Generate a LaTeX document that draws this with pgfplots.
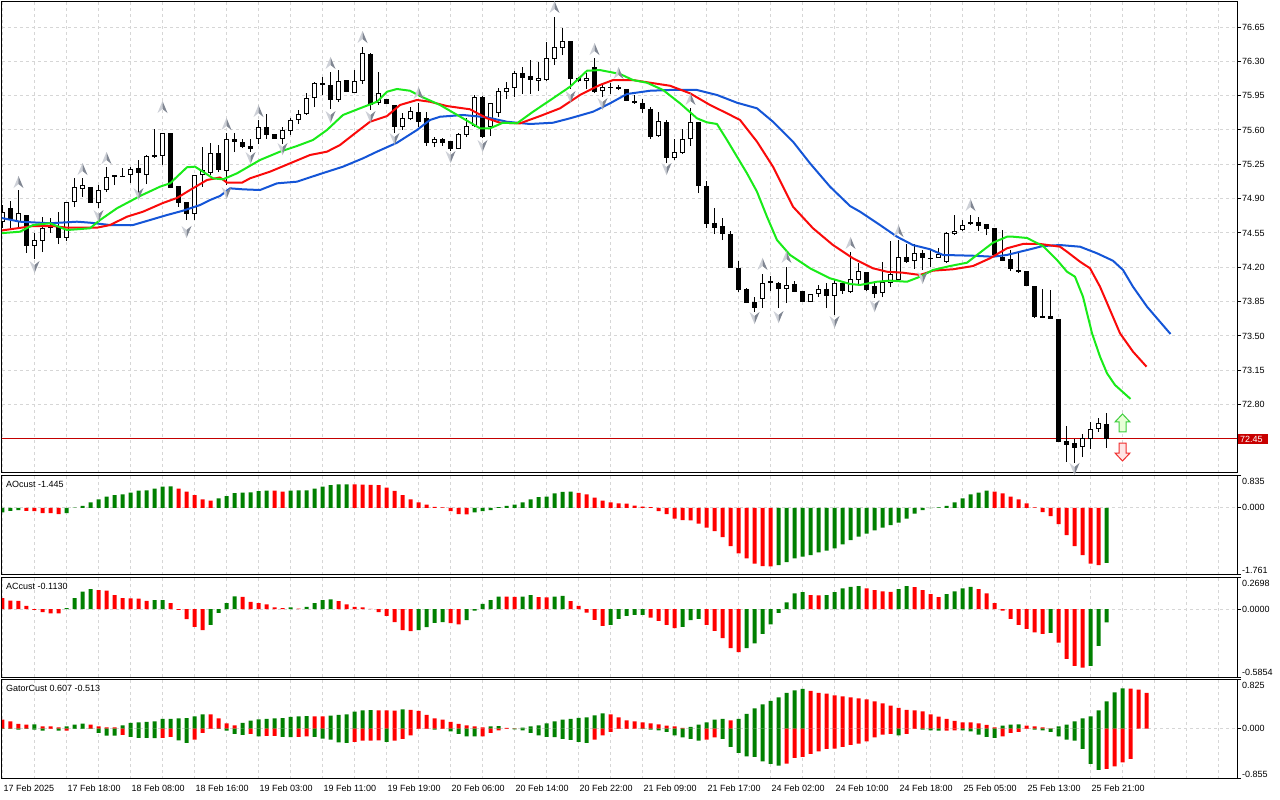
\documentclass[border=0pt]{standalone}
\usepackage{fontspec}
\setmainfont{Liberation Sans}
\usepackage{pgfplots}
\usepackage{pgfplotstable}
\pgfplotsset{compat=1.18}

\definecolor{gridc}{RGB}{214,214,214}
\definecolor{jaw}{RGB}{20,85,215}
\definecolor{teeth}{RGB}{250,10,10}
\definecolor{lips}{RGB}{25,235,25}
\definecolor{hgreen}{RGB}{0,128,0}
\definecolor{hred}{RGB}{255,0,0}
\definecolor{fracL}{RGB}{205,208,215}
\definecolor{fracR}{RGB}{128,134,146}
\definecolor{bidline}{RGB}{195,0,0}
\definecolor{tagred}{RGB}{200,0,0}
\definecolor{sgline}{RGB}{60,205,60}
\definecolor{sgfill}{RGB}{232,255,215}
\definecolor{srline}{RGB}{240,45,45}
\definecolor{srfill}{RGB}{255,228,228}

\pgfdeclareplotmark{fup}{%
  \pgfsetfillcolor{fracL}%
  \pgfpathmoveto{\pgfqpoint{0pt}{6pt}}\pgfpathlineto{\pgfqpoint{-5pt}{-6pt}}\pgfpathlineto{\pgfqpoint{0pt}{-2pt}}\pgfpathclose\pgfusepath{fill}%
  \pgfsetfillcolor{fracR}%
  \pgfpathmoveto{\pgfqpoint{0pt}{6pt}}\pgfpathlineto{\pgfqpoint{5pt}{-6pt}}\pgfpathlineto{\pgfqpoint{0pt}{-2pt}}\pgfpathclose\pgfusepath{fill}}
\pgfdeclareplotmark{fdown}{%
  \pgfsetfillcolor{fracL}%
  \pgfpathmoveto{\pgfqpoint{0pt}{-6pt}}\pgfpathlineto{\pgfqpoint{-5pt}{6pt}}\pgfpathlineto{\pgfqpoint{0pt}{2pt}}\pgfpathclose\pgfusepath{fill}%
  \pgfsetfillcolor{fracR}%
  \pgfpathmoveto{\pgfqpoint{0pt}{-6pt}}\pgfpathlineto{\pgfqpoint{5pt}{6pt}}\pgfpathlineto{\pgfqpoint{0pt}{2pt}}\pgfpathclose\pgfusepath{fill}}
\pgfdeclareplotmark{sigup}{%
  \pgfpathmoveto{\pgfqpoint{0pt}{9pt}}\pgfpathlineto{\pgfqpoint{7.5pt}{1pt}}\pgfpathlineto{\pgfqpoint{3.5pt}{1pt}}%
  \pgfpathlineto{\pgfqpoint{3.5pt}{-9pt}}\pgfpathlineto{\pgfqpoint{-3.5pt}{-9pt}}\pgfpathlineto{\pgfqpoint{-3.5pt}{1pt}}%
  \pgfpathlineto{\pgfqpoint{-7.5pt}{1pt}}\pgfpathclose\pgfusepathqfillstroke}
\pgfdeclareplotmark{sigdn}{%
  \pgfpathmoveto{\pgfqpoint{0pt}{-9pt}}\pgfpathlineto{\pgfqpoint{7.5pt}{-1pt}}\pgfpathlineto{\pgfqpoint{3.5pt}{-1pt}}%
  \pgfpathlineto{\pgfqpoint{3.5pt}{9pt}}\pgfpathlineto{\pgfqpoint{-3.5pt}{9pt}}\pgfpathlineto{\pgfqpoint{-3.5pt}{-1pt}}%
  \pgfpathlineto{\pgfqpoint{-7.5pt}{-1pt}}\pgfpathclose\pgfusepathqfillstroke}

\pgfplotstableread{
x o h l c
0 74.662 74.835 74.601 74.764
1 74.804 74.876 74.601 74.682
2 74.662 74.988 74.601 74.753
3 74.733 74.733 74.346 74.417
4 74.417 74.550 74.284 74.478
5 74.468 74.713 74.356 74.601
6 74.601 74.703 74.550 74.611
7 74.611 74.764 74.437 74.499
8 74.499 74.866 74.468 74.866
9 74.866 75.110 74.815 75.019
10 74.998 75.110 74.917 75.039
11 75.019 75.019 74.855 74.855
12 74.855 75.039 74.804 74.988
13 74.988 75.222 74.967 75.120
14 75.141 75.141 75.039 75.120
15 75.131 75.212 75.120 75.120
16 75.141 75.222 75.059 75.202
17 75.212 75.294 74.957 75.161
18 75.141 75.345 75.049 75.335
19 75.345 75.610 75.314 75.324
20 75.335 75.569 75.243 75.569
21 75.569 75.569 75.008 75.008
22 75.029 75.029 74.815 74.855
23 74.866 74.866 74.682 74.743
24 74.743 75.141 74.682 75.141
25 75.141 75.426 75.019 75.192
26 75.161 75.467 75.141 75.365
27 75.365 75.447 75.171 75.192
28 75.182 75.569 75.039 75.508
29 75.508 75.569 75.375 75.477
30 75.477 75.508 75.416 75.426
31 75.437 75.508 75.375 75.406
32 75.508 75.701 75.457 75.630
33 75.630 75.763 75.508 75.549
34 75.559 75.559 75.508 75.508
35 75.508 75.630 75.457 75.600
36 75.589 75.722 75.549 75.701
37 75.701 75.804 75.661 75.763
38 75.763 75.977 75.753 75.926
39 75.926 76.089 75.834 76.079
40 76.079 76.140 75.956 76.058
41 76.058 76.191 75.814 75.906
42 75.906 76.211 75.885 76.099
43 76.109 76.109 75.987 75.987
44 75.977 76.211 75.977 76.099
45 76.099 76.446 76.069 76.385
46 76.374 76.385 75.804 75.855
47 75.875 76.191 75.855 75.977
48 75.916 75.916 75.865 75.865
49 75.855 75.855 75.569 75.630
50 75.630 75.773 75.600 75.722
51 75.712 75.834 75.701 75.793
52 75.783 75.875 75.630 75.681
53 75.722 75.783 75.437 75.467
54 75.467 75.528 75.426 75.508
55 75.508 75.518 75.437 75.467
56 75.488 75.488 75.385 75.406
57 75.406 75.569 75.406 75.559
58 75.549 75.722 75.528 75.640
59 75.640 75.956 75.630 75.936
60 75.936 75.946 75.518 75.528
61 75.630 75.875 75.538 75.875
62 75.773 76.028 75.732 75.997
63 75.987 76.089 75.916 76.028
64 76.028 76.201 75.936 76.181
65 76.181 76.242 75.967 76.130
66 76.150 76.313 75.967 76.109
67 76.099 76.293 75.997 76.130
68 76.109 76.497 76.099 76.334
69 76.324 76.752 76.262 76.446
70 76.436 76.640 76.364 76.507
71 76.507 76.507 76.018 76.120
72 76.130 76.140 76.089 76.099
73 76.099 76.181 76.018 76.130
74 76.242 76.334 75.977 75.987
75 75.997 76.069 75.936 76.038
76 76.038 76.079 75.967 76.028
77 76.038 76.058 76.007 76.018
78 76.018 76.018 75.895 75.895
79 75.895 75.956 75.865 75.875
80 75.875 75.916 75.773 75.814
81 75.814 75.834 75.508 75.528
82 75.538 75.783 75.528 75.691
83 75.681 75.701 75.263 75.314
84 75.314 75.508 75.294 75.375
85 75.365 75.610 75.355 75.508
86 75.508 75.824 75.437 75.681
87 75.681 75.681 74.957 75.029
88 75.029 75.080 74.601 74.641
89 74.652 74.804 74.539 74.601
90 74.621 74.703 74.478 74.539
91 74.539 74.570 74.193 74.193
92 74.193 74.264 73.948 73.968
93 73.979 73.989 73.836 73.836
94 73.846 73.897 73.742 73.785
95 73.877 74.132 73.785 74.040
96 74.040 74.111 73.958 74.060
97 74.040 74.050 73.785 73.979
98 73.979 74.203 73.836 74.020
99 74.030 74.060 73.948 73.948
100 73.958 73.958 73.846 73.846
101 73.846 73.928 73.846 73.928
102 73.928 74.020 73.897 73.979
103 73.979 74.040 73.785 73.907
104 73.907 74.071 73.714 74.040
105 74.040 74.050 73.928 73.958
106 73.948 74.356 73.938 74.081
107 74.071 74.244 74.020 74.162
108 74.152 74.152 73.958 73.968
109 74.009 74.040 73.887 73.928
110 73.938 74.254 73.897 74.050
111 74.040 74.468 73.999 74.132
112 74.071 74.478 74.060 74.305
113 74.305 74.437 74.244 74.254
114 74.264 74.437 74.183 74.346
115 74.346 74.376 74.172 74.295
116 74.295 74.376 74.203 74.285
117 74.295 74.397 74.295 74.335
118 74.254 74.560 74.244 74.550
119 74.539 74.733 74.529 74.570
120 74.580 74.682 74.570 74.631
121 74.641 74.733 74.631 74.662
122 74.662 74.713 74.570 74.621
123 74.641 74.641 74.529 74.590
124 74.601 74.601 74.325 74.325
125 74.305 74.580 74.264 74.264
126 74.284 74.376 74.162 74.183
127 74.172 74.346 74.142 74.152
128 74.162 74.162 74.009 74.009
129 74.009 74.009 73.683 73.693
130 73.703 73.979 73.683 73.683
131 73.703 73.968 73.673 73.673
132 73.673 73.673 72.419 72.419
133 72.429 72.582 72.215 72.388
134 72.409 72.449 72.205 72.358
135 72.368 72.500 72.266 72.460
136 72.449 72.622 72.348 72.551
137 72.551 72.663 72.521 72.612
138 72.602 72.714 72.358 72.449
}\candles

\pgfplotstableread{
x y
2 75.069
10 75.202
13 75.314
20 75.834
28 75.661
32 75.793
41 76.283
45 76.548
52 75.977
69 76.854
74 76.425
77 76.181
86 75.916
95 74.234
98 74.305
106 74.448
112 74.570
121 74.835
}\fracup

\pgfplotstableread{
x y
4 74.203
12 74.723
17 74.947
23 74.560
28 74.957
31 75.314
35 75.406
41 75.732
46 75.732
49 75.508
56 75.324
60 75.437
71 75.936
75 75.865
83 75.202
94 73.683
97 73.693
104 73.642
109 73.805
115 74.091
134 72.144
}\fracdn

\pgfplotstableread{
x v g
0 -0.122 1
1 -0.079 1
2 -0.061 1
3 -0.079 0
4 -0.087 0
5 -0.140 0
6 -0.140 0
7 -0.166 0
8 -0.140 1
9 0.005 1
10 0.052 1
11 0.140 1
12 0.219 1
13 0.297 1
14 0.332 1
15 0.350 1
16 0.402 1
17 0.454 1
18 0.456 1
19 0.507 1
20 0.559 1
21 0.561 1
22 0.507 0
23 0.428 0
24 0.332 0
25 0.219 0
26 0.192 0
27 0.245 1
28 0.306 1
29 0.385 1
30 0.402 1
31 0.404 1
32 0.437 1
33 0.454 1
34 0.450 0
35 0.428 0
36 0.454 1
37 0.457 1
38 0.460 1
39 0.507 1
40 0.559 1
41 0.594 1
42 0.612 1
43 0.615 1
44 0.612 0
45 0.610 0
46 0.605 0
47 0.594 0
48 0.533 0
49 0.446 0
50 0.332 0
51 0.219 0
52 0.140 0
53 0.087 0
54 0.026 0
55 0.009 0
56 -0.087 0
57 -0.166 0
58 -0.170 0
59 -0.122 1
60 -0.087 1
61 -0.061 1
62 0.017 1
63 0.052 1
64 0.087 1
65 0.140 1
66 0.219 1
67 0.280 1
68 0.297 1
69 0.376 1
70 0.420 1
71 0.425 1
72 0.393 0
73 0.350 0
74 0.271 0
75 0.192 0
76 0.140 0
77 0.114 0
78 0.110 0
79 0.061 0
80 0.035 0
81 0.017 0
82 -0.087 0
83 -0.166 0
84 -0.280 0
85 -0.323 0
86 -0.330 0
87 -0.411 0
88 -0.516 0
89 -0.612 0
90 -0.769 0
91 -1.005 0
92 -1.197 0
93 -1.328 0
94 -1.460 0
95 -1.530 0
96 -1.535 0
97 -1.503 1
98 -1.425 1
99 -1.328 1
100 -1.276 1
101 -1.241 1
102 -1.171 1
103 -1.119 1
104 -1.066 1
105 -0.961 1
106 -0.848 1
107 -0.752 1
108 -0.673 1
109 -0.594 1
110 -0.516 1
111 -0.454 1
112 -0.385 1
113 -0.280 1
114 -0.149 1
115 -0.061 1
116 -0.009 1
117 0.009 1
118 0.052 1
119 0.140 1
120 0.245 1
121 0.350 1
122 0.402 1
123 0.454 1
124 0.428 0
125 0.376 0
126 0.297 0
127 0.219 0
128 0.114 0
129 0.009 0
130 -0.114 0
131 -0.219 0
132 -0.428 0
133 -0.717 0
134 -1.005 0
135 -1.241 0
136 -1.460 0
137 -1.503 0
138 -1.445 1
}\ao

\pgfplotstableread{
x v g
0 0.095 0
1 0.075 0
2 0.073 0
3 0.029 0
4 -0.006 0
5 -0.026 0
6 -0.035 0
7 -0.036 0
8 0.009 1
9 0.095 1
10 0.153 1
11 0.173 1
12 0.164 0
13 0.160 0
14 0.121 0
15 0.095 0
16 0.093 0
17 0.091 0
18 0.072 0
19 0.078 1
20 0.079 1
21 0.052 0
22 -0.006 0
23 -0.086 0
24 -0.153 0
25 -0.181 0
26 -0.135 1
27 -0.032 1
28 0.052 1
29 0.112 1
30 0.107 0
31 0.063 0
32 0.052 0
33 0.043 0
34 0.017 0
35 0.009 0
36 0.017 1
37 0.006 0
38 0.020 1
39 0.052 1
40 0.078 1
41 0.086 1
42 0.069 0
43 0.043 0
44 0.020 0
45 0.017 0
46 0.003 0
47 -0.026 0
48 -0.058 0
49 -0.112 0
50 -0.181 0
51 -0.190 0
52 -0.181 1
53 -0.155 1
54 -0.118 1
55 -0.112 1
56 -0.121 0
57 -0.130 0
58 -0.095 1
59 -0.012 1
60 0.046 1
61 0.078 1
62 0.109 1
63 0.108 0
64 0.107 0
65 0.109 1
66 0.121 1
67 0.104 0
68 0.102 0
69 0.109 1
70 0.115 1
71 0.069 0
72 0.029 0
73 -0.029 0
74 -0.092 0
75 -0.144 0
76 -0.135 1
77 -0.083 1
78 -0.058 1
79 -0.049 1
80 -0.048 1
81 -0.072 0
82 -0.101 0
83 -0.135 0
84 -0.164 0
85 -0.153 1
86 -0.095 1
87 -0.083 1
88 -0.135 0
89 -0.187 0
90 -0.250 0
91 -0.337 0
92 -0.371 0
93 -0.337 1
94 -0.294 1
95 -0.213 1
96 -0.130 1
97 -0.032 1
98 0.060 1
99 0.138 1
100 0.147 1
101 0.121 0
102 0.120 0
103 0.122 1
104 0.147 1
105 0.181 1
106 0.193 1
107 0.199 1
108 0.181 0
109 0.164 0
110 0.155 0
111 0.150 0
112 0.173 1
113 0.199 1
114 0.190 0
115 0.164 0
116 0.130 0
117 0.104 0
118 0.130 1
119 0.155 1
120 0.181 1
121 0.193 1
122 0.173 0
123 0.138 0
124 0.052 0
125 -0.012 0
126 -0.083 0
127 -0.135 0
128 -0.170 0
129 -0.199 0
130 -0.213 0
131 -0.204 1
132 -0.288 0
133 -0.429 0
134 -0.489 0
135 -0.504 0
136 -0.489 1
137 -0.317 1
138 -0.113 1
}\ac

\pgfplotstableread{
x v g
0 0.153 0
1 0.124 0
2 0.079 0
3 0.068 0
4 0.070 1
5 0.040 0
6 0.038 0
7 0.023 0
8 0.040 1
9 0.068 1
10 0.085 1
11 0.068 0
12 0.040 0
13 0.023 0
14 0.020 0
15 0.057 1
16 0.096 1
17 0.107 1
18 0.113 1
19 0.124 1
20 0.164 1
21 0.166 1
22 0.175 1
23 0.177 1
24 0.209 1
25 0.243 1
26 0.240 0
27 0.175 0
28 0.091 0
29 0.057 0
30 0.096 1
31 0.136 1
32 0.158 1
33 0.164 1
34 0.175 1
35 0.177 1
36 0.198 1
37 0.209 1
38 0.211 1
39 0.208 0
40 0.206 0
41 0.221 1
42 0.232 1
43 0.243 1
44 0.289 1
45 0.311 1
46 0.313 1
47 0.310 0
48 0.308 0
49 0.306 0
50 0.328 1
51 0.317 0
52 0.300 0
53 0.232 0
54 0.175 0
55 0.153 0
56 0.113 0
57 0.079 0
58 0.057 0
59 0.040 0
60 0.023 0
61 0.040 1
62 0.042 1
63 0.011 0
64 0.006 0
65 0.017 1
66 0.040 1
67 0.057 1
68 0.091 1
69 0.124 1
70 0.153 1
71 0.164 1
72 0.181 1
73 0.192 1
74 0.226 1
75 0.260 1
76 0.243 0
77 0.192 0
78 0.141 0
79 0.124 0
80 0.107 0
81 0.091 0
82 0.074 0
83 0.051 0
84 0.040 0
85 0.011 0
86 0.028 1
87 0.068 1
88 0.107 1
89 0.153 1
90 0.164 1
91 0.141 0
92 0.164 1
93 0.249 1
94 0.345 1
95 0.413 1
96 0.470 1
97 0.532 1
98 0.605 1
99 0.651 1
100 0.673 1
101 0.639 0
102 0.605 0
103 0.594 0
104 0.566 0
105 0.549 0
106 0.532 0
107 0.515 0
108 0.498 0
109 0.464 0
110 0.430 0
111 0.390 0
112 0.351 0
113 0.317 0
114 0.311 0
115 0.294 0
116 0.243 0
117 0.204 0
118 0.164 0
119 0.130 0
120 0.107 0
121 0.105 0
122 0.091 0
123 0.062 0
124 0.023 0
125 0.051 1
126 0.068 1
127 0.070 1
128 0.051 0
129 0.040 0
130 0.023 0
131 0.006 0
132 0.040 1
133 0.068 1
134 0.124 1
135 0.175 1
136 0.209 1
137 0.311 1
138 0.464 1
139 0.617 1
140 0.684 1
141 0.680 0
142 0.662 0
143 0.607 0
}\gatup

\pgfplotstableread{
x v g
0 -0.006 1
1 -0.006 1
2 -0.017 1
3 -0.006 1
4 -0.017 1
5 -0.034 1
6 -0.003 0
7 -0.034 1
8 -0.034 0
9 -0.006 1
10 -0.003 1
11 -0.006 1
12 -0.074 1
13 -0.119 1
14 -0.119 1
15 -0.107 0
16 -0.141 1
17 -0.158 1
18 -0.158 1
19 -0.160 1
20 -0.158 0
21 -0.141 0
22 -0.198 1
23 -0.243 1
24 -0.187 0
25 -0.074 0
26 -0.006 0
27 -0.006 1
28 -0.034 1
29 -0.091 1
30 -0.107 1
31 -0.091 0
32 -0.130 1
33 -0.124 0
34 -0.122 0
35 -0.141 1
36 -0.143 1
37 -0.141 0
38 -0.130 0
39 -0.141 1
40 -0.170 1
41 -0.187 1
42 -0.232 1
43 -0.243 1
44 -0.226 0
45 -0.204 0
46 -0.202 0
47 -0.200 0
48 -0.226 1
49 -0.204 0
50 -0.175 0
51 -0.113 0
52 -0.006 0
53 -0.004 0
54 -0.017 1
55 -0.006 0
56 -0.045 1
57 -0.091 1
58 -0.130 1
59 -0.132 1
60 -0.130 0
61 -0.074 0
62 -0.028 0
63 -0.006 0
64 -0.011 1
65 -0.028 1
66 -0.074 1
67 -0.113 1
68 -0.141 1
69 -0.143 1
70 -0.175 1
71 -0.190 1
72 -0.226 1
73 -0.243 1
74 -0.187 0
75 -0.113 0
76 -0.057 0
77 -0.006 0
78 -0.004 0
79 -0.002 0
80 -0.006 1
81 -0.017 1
82 -0.028 1
83 -0.057 1
84 -0.113 1
85 -0.147 1
86 -0.175 1
87 -0.204 1
88 -0.187 0
89 -0.147 0
90 -0.175 1
91 -0.311 1
92 -0.413 1
93 -0.470 1
94 -0.481 1
95 -0.555 1
96 -0.600 1
97 -0.628 1
98 -0.594 0
99 -0.498 0
100 -0.481 0
101 -0.430 0
102 -0.385 0
103 -0.345 0
104 -0.339 0
105 -0.311 0
106 -0.277 0
107 -0.255 0
108 -0.215 0
109 -0.147 0
110 -0.102 0
111 -0.091 0
112 -0.113 1
113 -0.091 0
114 -0.006 0
115 -0.017 1
116 -0.028 1
117 -0.034 1
118 -0.033 0
119 -0.028 0
120 -0.028 1
121 -0.045 1
122 -0.102 1
123 -0.141 1
124 -0.158 1
125 -0.130 0
126 -0.074 0
127 -0.057 0
128 -0.006 0
129 -0.017 1
130 -0.028 1
131 -0.057 1
132 -0.130 1
133 -0.187 1
134 -0.204 1
135 -0.345 1
136 -0.600 1
137 -0.701 1
138 -0.685 0
139 -0.639 0
140 -0.571 0
141 -0.513 0
}\gatdn

\pgfplotsset{
  mt/.style={
    scale only axis, width=1235pt, anchor=north west,
    xmin=-0.0625, xmax=154.3125,
    axis line style={black, line width=1pt},
    tick align=outside, major tick length=4pt,
    ytick pos=right, yticklabel pos=right,
    xtick={0,4,...,152}, xticklabels={},
    xtick style={draw=none},
    ytick style={black, line width=1pt},
    grid style={gridc, dash pattern=on 3pt off 3pt, line width=1pt},
    xmajorgrids, ymajorgrids,
    tick label style={font=\fontsize{9}{10}\selectfont},
    yticklabel style={anchor=west, inner sep=0pt, xshift=1pt},
    clip=true,
  },
  hbar/.style={ybar, bar width=4pt, bar shift=0pt, draw=none},
  isg/.style={x filter/.expression={\thisrow{g}>0.5 ? x : nan}},
  isr/.style={x filter/.expression={\thisrow{g}<0.5 ? x : nan}},
}
\tikzset{lab/.style={anchor=north west, inner sep=0pt, font=\fontsize{9}{10}\selectfont, xshift=4pt, yshift=-5pt}}

\begin{document}
\begin{tikzpicture}
\useasboundingbox (0,0) rectangle (1280pt,800pt);
\fill[white] (0,0) rectangle (1280pt,800pt);

% ---------------- main price panel ----------------
\begin{axis}[mt, at={(2pt,798pt)}, height=471pt,
  ymin=72.103, ymax=76.905,
  ytick={72.80,73.15,73.50,73.85,74.20,74.55,74.90,75.25,75.60,75.95,76.30,76.65},
  yticklabels={72.80,73.15,73.50,73.85,74.20,74.55,74.90,75.25,75.60,75.95,76.30,76.65},
  extra y ticks={72.45}, extra y tick labels={72.45},
  extra y tick style={major tick length=0pt,
    yticklabel style={fill=tagred, text=white, inner xsep=2pt, inner ysep=1pt,
      minimum height=10pt, text width=26pt, align=left, xshift=0pt}},
]
\addplot[bidline, line width=1pt] coordinates {(-1,72.45) (160,72.45)};
% candles
\addplot[black, line width=1pt, quiver={u=0, v=\thisrow{h}-\thisrow{l}}] table[x=x, y=l]{\candles};
\addplot[black, line width=5pt, quiver={u=0, v=\thisrow{c}-\thisrow{o}}] table[x=x, y=o]{\candles};
\addplot[white, line width=3pt, shorten >=1pt, shorten <=1pt, quiver={u=0, v=\thisrow{c}-\thisrow{o}},
  x filter/.expression={\thisrow{c}-\thisrow{o}>0.025 ? x : nan}] table[x=x, y=o]{\candles};
% alligator
\addplot[jaw, line width=2pt, line join=round] coordinates {
(-0.31,74.706)(2.19,74.665)(5.94,74.649)(9.31,74.665)(10.94,74.655)(13.44,74.631)(16.31,74.631)
(18.44,74.682)(20.56,74.733)(22.56,74.777)(24.69,74.835)(25.94,74.886)(27.19,74.927)(28.44,75.005)
(30.06,74.995)(32.19,74.988)(34.31,75.056)(36.81,75.073)(39.69,75.151)(42.56,75.226)(45.06,75.311)
(46.81,75.379)(49.31,75.470)(51.81,75.600)(53.44,75.702)(54.69,75.735)(57.56,75.753)(60.56,75.729)
(63.06,75.684)(65.94,75.661)(68.81,75.674)(70.94,75.719)(73.81,75.786)(75.94,75.872)(78.06,75.967)
(80.94,76.000)(83.44,76.008)(86.81,76.008)(89.31,75.957)(91.81,75.878)(94.31,75.821)(96.31,75.684)
(98.81,75.481)(100.94,75.260)(103.44,75.022)(105.94,74.825)(107.19,74.767)(109.69,74.631)(111.81,74.512)
(113.81,74.427)(115.94,74.384)(117.56,74.326)(121.31,74.318)(123.81,74.308)(125.56,74.326)(128.06,74.376)
(130.06,74.417)(132.19,74.427)(134.69,74.410)(136.81,74.343)(138.81,74.267)(140.06,74.173)(141.31,74.002)
(143.06,73.799)(144.31,73.680)(146.0,73.520)};
\addplot[teeth, line width=2pt, line join=round] coordinates {
(-0.31,74.573)(3.81,74.621)(6.31,74.621)(8.06,74.604)(11.81,74.604)(13.44,74.631)(15.56,74.716)
(17.56,74.767)(20.06,74.856)(21.81,74.907)(23.44,74.988)(25.56,75.090)(27.19,75.116)(28.06,75.063)
(29.94,75.063)(30.94,75.107)(33.44,75.175)(35.94,75.260)(38.44,75.345)(40.56,75.379)(42.19,75.447)
(44.31,75.582)(45.94,75.684)(48.06,75.742)(49.69,75.855)(51.81,75.906)(53.44,75.888)(55.56,75.844)
(58.44,75.811)(60.56,75.719)(62.19,75.674)(64.69,75.668)(67.19,75.742)(69.69,75.821)(72.19,75.957)
(74.69,76.059)(76.31,76.109)(78.81,76.109)(80.94,76.082)(83.44,76.051)(85.94,75.974)(88.44,75.855)
(90.56,75.770)(92.19,75.702)(94.31,75.481)(96.31,75.226)(98.81,74.818)(101.31,74.598)(103.81,74.427)
(106.31,74.292)(108.81,74.190)(110.56,74.155)(112.56,74.145)(114.69,74.122)(116.31,74.166)(118.81,74.180)
(121.31,74.213)(123.44,74.292)(125.56,74.394)(127.56,74.438)(129.69,74.438)(132.19,74.410)(133.06,74.359)
(134.69,74.257)(135.94,74.190)(137.19,74.002)(138.44,73.765)(139.69,73.527)(141.31,73.340)(143.0,73.187)};
\addplot[lips, line width=2pt, line join=round] coordinates {
(-0.31,74.547)(2.19,74.563)(3.81,74.631)(5.94,74.649)(8.06,74.580)(10.94,74.598)(12.19,74.682)
(14.31,74.802)(17.19,74.927)(19.69,75.022)(20.94,75.056)(23.06,75.220)(24.06,75.226)(25.06,75.175)
(26.31,75.107)(27.56,75.097)(29.31,75.158)(32.19,75.294)(34.69,75.379)(36.81,75.437)(38.81,75.498)
(40.56,75.600)(42.56,75.753)(44.69,75.821)(46.81,75.888)(48.06,75.990)(49.31,76.018)(50.94,76.000)
(52.19,75.946)(54.69,75.855)(57.56,75.719)(59.69,75.617)(60.94,75.617)(62.56,75.674)(64.31,75.668)
(66.31,75.786)(68.81,75.923)(70.94,76.041)(73.06,76.204)(74.69,76.211)(77.19,76.171)(78.81,76.109)
(80.56,76.082)(82.56,76.008)(84.69,75.872)(86.81,75.719)(88.06,75.678)(89.31,75.661)(90.56,75.498)
(91.81,75.328)(93.06,75.158)(94.31,74.971)(95.56,74.716)(96.81,74.478)(98.44,74.326)(100.94,74.190)
(103.44,74.088)(105.94,74.030)(107.19,74.020)(109.31,74.053)(110.94,74.064)(113.06,74.053)(114.69,74.104)
(116.31,74.173)(118.44,74.213)(120.56,74.247)(121.81,74.326)(123.81,74.451)(125.56,74.512)(126.31,74.512)
(128.06,74.499)(130.06,74.417)(131.81,74.275)(133.06,74.155)(134.06,74.104)(135.06,73.900)(136.19,73.527)
(137.19,73.289)(138.06,73.120)(139.06,73.000)(141.0,72.858)};
% fractals
\addplot[only marks, mark=fup] table[x=x, y=y]{\fracup};
\addplot[only marks, mark=fdown] table[x=x, y=y]{\fracdn};
% signal arrows
\addplot[only marks, mark=sigup, mark options={draw=sgline, fill=sgfill, line width=1pt}] coordinates {(140,72.613)};
\addplot[only marks, mark=sigdn, mark options={draw=srline, fill=srfill, line width=1pt}] coordinates {(140,72.317)};
\end{axis}

% ---------------- AO ----------------
\begin{axis}[mt, at={(2pt,324pt)}, height=99pt,
  ymin=-1.761, ymax=0.835,
  ytick={-1.761,0,0.835},
  yticklabels={{\raisebox{5pt}[\height][\depth]{-1.761}},{0.000},{\raisebox{-5pt}[\height][\depth]{0.835}}},
]
\addplot[hbar, fill=hgreen, isg] table[x=x, y=v]{\ao};
\addplot[hbar, fill=hred, isr] table[x=x, y=v]{\ao};
\node[lab] at (rel axis cs:0,1) {AOcust -1.445};
\end{axis}

% ---------------- AC ----------------
\begin{axis}[mt, at={(2pt,222pt)}, height=99pt,
  ymin=-0.5854, ymax=0.2698,
  ytick={-0.5854,0,0.2698},
  yticklabels={{\raisebox{5pt}[\height][\depth]{-0.5854}},{0.0000},{\raisebox{-5pt}[\height][\depth]{0.2698}}},
]
\addplot[hbar, fill=hgreen, isg] table[x=x, y=v]{\ac};
\addplot[hbar, fill=hred, isr] table[x=x, y=v]{\ac};
\node[lab] at (rel axis cs:0,1) {ACcust -0.1130};
\end{axis}

% ---------------- Gator ----------------
\begin{axis}[mt, at={(2pt,120pt)}, height=99pt,
  ymin=-0.855, ymax=0.825,
  ytick={-0.855,0,0.825},
  yticklabels={{\raisebox{5pt}[\height][\depth]{-0.855}},{0.000},{\raisebox{-5pt}[\height][\depth]{0.825}}},
  xtick={0,8,...,136},
  xticklabels={17 Feb 2025,17 Feb 18:00,18 Feb 08:00,18 Feb 16:00,19 Feb 03:00,19 Feb 11:00,19 Feb 19:00,20 Feb 06:00,20 Feb 14:00,20 Feb 22:00,21 Feb 09:00,21 Feb 17:00,24 Feb 02:00,24 Feb 10:00,24 Feb 18:00,25 Feb 05:00,25 Feb 13:00,25 Feb 21:00},
  xtick pos=bottom, xtick style={black, line width=1pt},
  xticklabel style={anchor=north west, inner sep=0pt, xshift=1pt, yshift=-2pt},
  minor xtick={4,12,20,28,36,44,52,60,68,76,84,92,100,108,116,124,132,140,144,148,152},
  xminorgrids, minor grid style={gridc, dash pattern=on 3pt off 3pt, line width=1pt},
  minor tick length=0pt,
]
\addplot[hbar, fill=hgreen, isg] table[x=x, y=v]{\gatup};
\addplot[hbar, fill=hred, isr] table[x=x, y=v]{\gatup};
\addplot[hbar, fill=hgreen, isg] table[x=x, y=v]{\gatdn};
\addplot[hbar, fill=hred, isr] table[x=x, y=v]{\gatdn};
\node[lab] at (rel axis cs:0,1) {GatorCust 0.607 -0.513};
\end{axis}
\end{tikzpicture}
\end{document}
